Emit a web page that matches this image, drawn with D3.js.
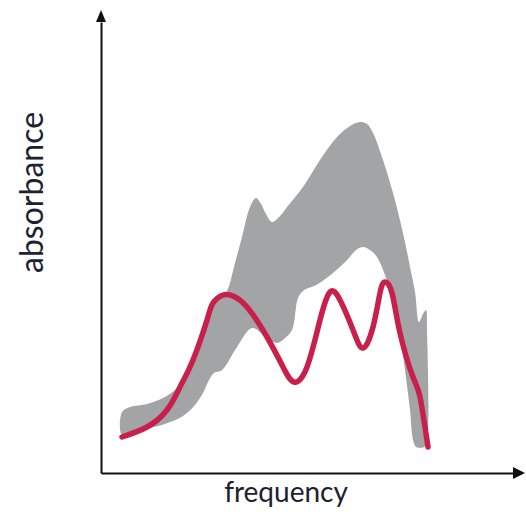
<!DOCTYPE html>
<html>
<head>
<meta charset="utf-8">
<script src="https://cdn.jsdelivr.net/npm/d3@7"></script>
<style>
  html, body { margin: 0; padding: 0; background: #ffffff; }
  svg { display: block; }
</style>
</head>
<body>
<svg id="chart" width="526" height="515"></svg>
<script>
// ---- Data (frequency / absorbance, arbitrary units) ----
const xLabel = "frequency";
const yLabel = "absorbance";

// mean spectrum (red line)
const meanFreq = [5.25, 11.5, 16.5, 19.75, 23, 26.5, 28, 30.5, 33, 36.5, 41.5, 45.5, 48.25, 51.5, 54.75, 57.25, 59.75, 63, 65.5, 68, 69.75, 71, 72.75, 74.75, 78, 79.75, 81.75];
const meanAbs  = [9, 11.5, 15.75, 21.5, 28.25, 38.25, 42.5, 44.5, 44.25, 41.5, 34, 26.5, 22.75, 26.5, 38.25, 45.25, 43.25, 35.75, 31.25, 36.5, 45, 47.75, 45, 35, 24, 19, 6.5];

// upper envelope of the spread (grey band), left to right
const upperFreq = [5.25, 7.25, 11.5, 15.5, 18.5, 21, 23.5, 26, 28, 30, 31.5, 33.5, 35.25, 37.25, 38.75, 40, 41.25, 42.75, 44.75, 46.5, 50.5, 54.75, 59, 62.25, 64.75, 66.5, 68, 70.5, 73, 75.5, 77.25, 78.5, 79.5, 80.5, 81.25, 81.5, 81.5];
const upperAbs  = [15.25, 16.5, 17.25, 18.75, 20.75, 23.75, 28.75, 35.75, 41.5, 43.75, 45.5, 52.5, 59, 66.5, 68.75, 67.25, 64.75, 62.75, 64.25, 66.5, 71.5, 78.25, 84, 86.75, 87.75, 87.25, 85, 78.25, 70, 60, 51.5, 45.25, 37.75, 39.75, 40.75, 35.75, 8.25];

// lower envelope of the spread (grey band), right to left
const lowerFreq = [80.75, 78.75, 78, 77.25, 76, 74.75, 73, 71, 69, 67.25, 65.5, 63.75, 61.75, 58, 54.25, 50.5, 49.25, 47.75, 46, 44, 41, 37.75, 34, 30.25, 28.25, 26.75, 25.5, 23.5, 20.5, 16, 12.25, 8.5, 5.25];
const lowerAbs  = [6.5, 6.5, 8.25, 15.75, 25.75, 35, 42.75, 49.5, 54, 55.75, 56.5, 55.75, 53.5, 50, 47.25, 45.5, 43.75, 35.75, 33.75, 32.5, 34.25, 36.25, 31.5, 25.75, 25, 22.75, 20, 17, 14.25, 12.25, 11.25, 10.25, 9.5];

// ---- Chart ----
const svg = d3.select("#chart");
const x = d3.scaleLinear().domain([0, 103]).range([101, 513]);
const y = d3.scaleLinear().domain([0, 112.75]).range([473, 22]);

const bandPts = upperFreq.map((f, i) => [f, upperAbs[i]])
  .concat(lowerFreq.map((f, i) => [f, lowerAbs[i]]));
const bandLine = d3.line()
  .x(d => x(d[0])).y(d => y(d[1]))
  .curve(d3.curveCatmullRomClosed.alpha(0.5));
svg.append("path")
  .attr("d", bandLine(bandPts))
  .attr("fill", "#a3a4a6")
  .attr("stroke", "none");

const meanPts = meanFreq.map((f, i) => [f, meanAbs[i]]);
const meanLine = d3.line()
  .x(d => x(d[0])).y(d => y(d[1]))
  .curve(d3.curveNatural);
svg.append("path")
  .attr("d", meanLine(meanPts))
  .attr("fill", "none")
  .attr("stroke", "#c8204a")
  .attr("stroke-width", 5.5)
  .attr("stroke-linecap", "round")
  .attr("stroke-linejoin", "round");

// axes (no ticks), with arrow heads
svg.append("g").attr("transform", `translate(0,${y(0)})`)
  .call(d3.axisBottom(x).ticks(0).tickSize(0).tickSizeOuter(0));
svg.append("g").attr("transform", `translate(${x(0)},0)`)
  .call(d3.axisLeft(y).ticks(0).tickSize(0).tickSizeOuter(0));
svg.selectAll(".domain").attr("stroke", "#111").attr("stroke-width", 2);

const xEnd = x.range()[1], yEnd = y.range()[1];
svg.append("path")
  .attr("d", `M${xEnd + 12},${y(0)} L${xEnd},${y(0) - 6} L${xEnd},${y(0) + 6} Z`)
  .attr("fill", "#111");
svg.append("path")
  .attr("d", `M${x(0)},${yEnd - 12} L${x(0) - 5},${yEnd} L${x(0) + 5},${yEnd} Z`)
  .attr("fill", "#111");

// labels
svg.append("text")
  .attr("x", 286).attr("y", 502)
  .attr("text-anchor", "middle")
  .attr("font-family", "Lato, 'Open Sans', sans-serif")
  .attr("font-size", 28)
  .attr("fill", "#1c2230")
  .text(xLabel);
svg.append("text")
  .attr("transform", "translate(43,192.5) rotate(-90)")
  .attr("text-anchor", "middle")
  .attr("font-family", "Lato, 'Open Sans', sans-serif")
  .attr("font-size", 32)
  .attr("fill", "#1c2230")
  .text(yLabel);
</script>
</body>
</html>
